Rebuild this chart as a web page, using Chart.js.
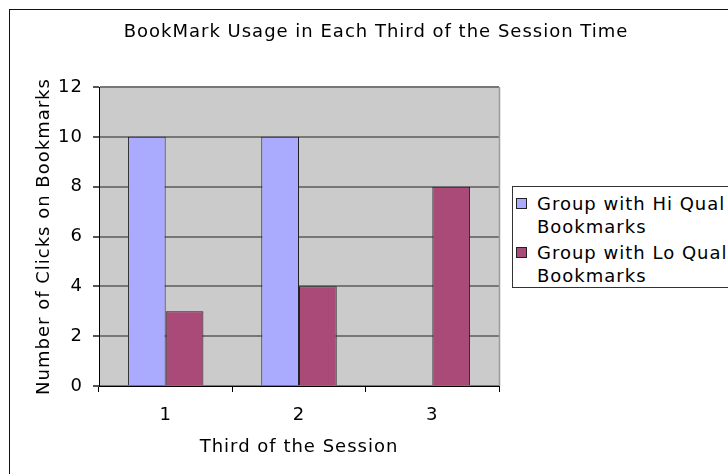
<!DOCTYPE html>
<html>
<head>
<meta charset="utf-8">
<script src="https://cdn.jsdelivr.net/npm/chart.js@4.4.1/dist/chart.umd.min.js"></script>
<style>
  html, body { margin: 0; padding: 0; background: #fff; overflow: hidden; }
  #wrap { position: relative; width: 728px; height: 474px; }
  #frame { position: absolute; left: 9px; top: 9px; width: 760px; height: 500px; border: 1.5px solid #111; box-sizing: border-box; }
  #c { position: absolute; left: 0; top: 0; }
  #title { position: absolute; left: 0; width: 752px; top: 20px; text-align: center; font: 18px "DejaVu Sans", Verdana, sans-serif; letter-spacing: 1px; color: #000; white-space: nowrap; }
  #legend { position: absolute; left: 512px; top: 186px; width: 260px; height: 102px; border: 1px solid #333; box-sizing: border-box; background: #fff; font: 18px "DejaVu Sans", Verdana, sans-serif; letter-spacing: 1px; color: #000; }
  .item { position: absolute; left: 24px; line-height: 23px; white-space: nowrap; }
  .sw { position: absolute; left: 3px; width: 11px; height: 11px; border: 1px solid #222; box-sizing: border-box; }
</style>
</head>
<body>
<div id="wrap">
  <div id="frame"></div>
  <canvas id="c" width="728" height="474"></canvas>
  <div id="title"></div>
  <div id="legend"></div>
</div>
<script>
const chartTitle = "BookMark Usage in Each Third of the Session Time";
const categories = ["1", "2", "3"];
const seriesNames = ["Group with Hi Qual Bookmarks", "Group with Lo Qual Bookmarks"];
const legendLines = [["Group with Hi Qual", "Bookmarks"], ["Group with Lo Qual", "Bookmarks"]];
const hiQual = [10, 10, 0];
const loQual = [3, 4, 8];
const seriesColors = ["#AAAAFF", "#A94A78"];
const xTitle = "Third of the Session";
const yTitle = "Number of Clicks on Bookmarks";
const yMin = 0, yMax = 12, yStep = 2;

document.getElementById('title').textContent = chartTitle;

const leg = document.getElementById('legend');
legendLines.forEach((lines, i) => {
  const top = 5 + i * 49;
  const sw = document.createElement('div');
  sw.className = 'sw';
  sw.style.top = (top + 6) + 'px';
  sw.style.background = seriesColors[i];
  leg.appendChild(sw);
  const it = document.createElement('div');
  it.className = 'item';
  it.style.top = top + 'px';
  it.innerHTML = lines.join('<br>');
  leg.appendChild(it);
});

const FONT = '"DejaVu Sans", Verdana, sans-serif';

const spacing = {
  id: 'spacing',
  beforeInit(chart) { chart.ctx.letterSpacing = '1px'; },
  beforeUpdate(chart) { chart.ctx.letterSpacing = '1px'; },
  beforeDraw(chart) { chart.ctx.letterSpacing = '1px'; }
};

const plotBg = {
  id: 'plotBg',
  beforeDraw(chart) {
    const {ctx, chartArea: a} = chart;
    ctx.save();
    ctx.fillStyle = '#CBCBCB';
    ctx.fillRect(a.left, a.top, a.right - a.left, a.bottom - a.top);
    ctx.restore();
  },
  afterDraw(chart) {
    const {ctx, chartArea: a} = chart;
    ctx.save();
    ctx.strokeStyle = '#9a9a9a';
    ctx.lineWidth = 1.5;
    ctx.beginPath();
    ctx.moveTo(Math.round(a.right) + 0.5, a.top);
    ctx.lineTo(Math.round(a.right) + 0.5, a.bottom);
    ctx.stroke();
    ctx.restore();
  }
};

new Chart(document.getElementById('c'), {
  type: 'bar',
  data: {
    labels: categories,
    datasets: [
      { label: seriesNames[0], data: hiQual, backgroundColor: seriesColors[0], borderColor: '#222', borderWidth: 1, categoryPercentage: 0.566, barPercentage: 1.0 },
      { label: seriesNames[1], data: loQual, backgroundColor: seriesColors[1], borderColor: '#222', borderWidth: 1, categoryPercentage: 0.566, barPercentage: 1.0 }
    ]
  },
  options: {
    responsive: false,
    animation: false,
    devicePixelRatio: 1,
    layout: { padding: { left: 0, top: 87, right: 229, bottom: 0 } },
    plugins: { legend: { display: false }, title: { display: false }, tooltip: { enabled: false } },
    scales: {
      x: {
        afterFit(s) { s.height = 88; },
        grid: { offset: true, drawOnChartArea: false, drawTicks: true, tickLength: 6, color: '#000', tickColor: '#000' },
        border: { color: '#000', width: 1 },
        ticks: { color: '#000', font: { family: FONT, size: 18 }, padding: 13 },
        title: { display: true, text: xTitle, color: '#000', font: { family: FONT, size: 18 }, padding: { top: 0, bottom: 16 } }
      },
      y: {
        min: yMin, max: yMax,
        afterFit(s) { s.width = 99; },
        grid: { drawOnChartArea: true, drawTicks: true, tickLength: 6, color: '#777', lineWidth: 2, tickColor: '#555' },
        border: { color: '#000', width: 1 },
        ticks: { stepSize: yStep, color: '#000', font: { family: FONT, size: 18 }, padding: 10 },
        title: { display: true, text: yTitle, color: '#000', font: { family: FONT, size: 18 }, padding: { top: 34, bottom: 0 } }
      }
    }
  },
  plugins: [spacing, plotBg]
});
</script>
</body>
</html>
